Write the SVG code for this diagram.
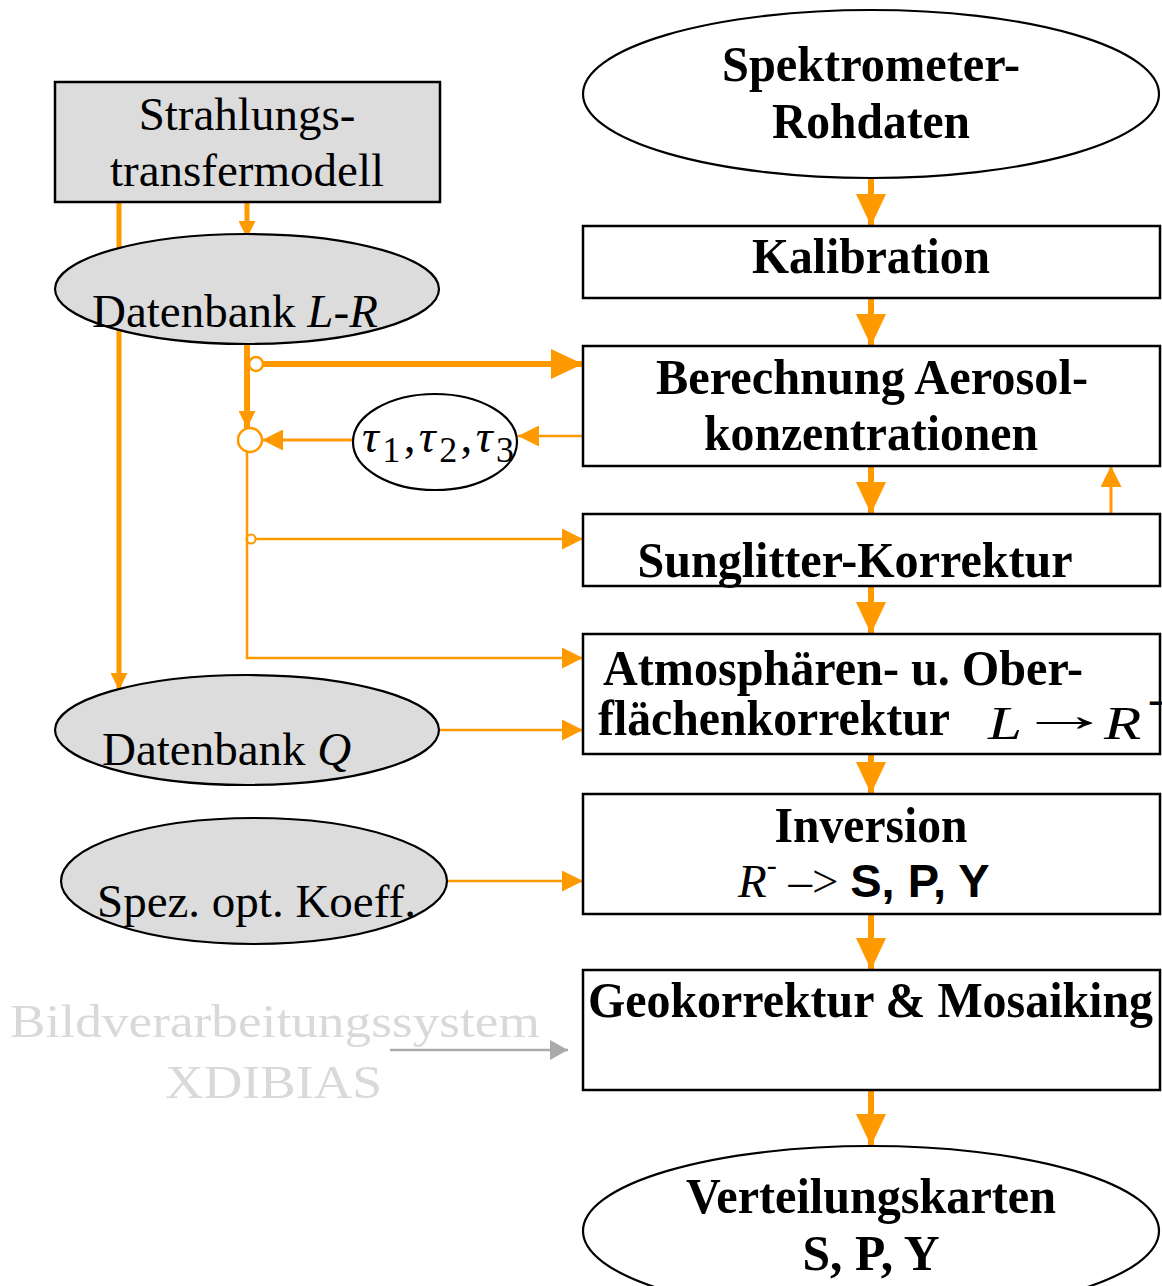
<svg xmlns="http://www.w3.org/2000/svg" width="1162" height="1286" viewBox="0 0 1162 1286">
<style>
.box{fill:#fff;stroke:#000;stroke-width:2.5}
.gbox{fill:#dcdcdc;stroke:#000;stroke-width:2.5}
.ell{fill:#fff;stroke:#000;stroke-width:2.2}
.gell{fill:#dcdcdc;stroke:#000;stroke-width:2.2}
.b{font-family:"Liberation Serif","Times New Roman",serif;font-weight:bold;font-size:50px;fill:#000}
.r{font-family:"Liberation Serif","Times New Roman",serif;font-size:47px;fill:#000}
.i{font-family:"Liberation Serif","Times New Roman",serif;font-style:italic}
.ctr{text-anchor:middle}
.gr{fill:#d9d9d9}
.o{fill:none;stroke:#FF9900}
.th{stroke-width:6}
.tn{stroke-width:3}
</style>
<defs>
<marker id="big" markerUnits="userSpaceOnUse" markerWidth="32" markerHeight="30" refX="32" refY="15" orient="auto" viewBox="0 0 32 30"><path d="M0,0 L32,15 L0,30 z" fill="#FF9900"/></marker>
<marker id="sm" markerUnits="userSpaceOnUse" markerWidth="21" markerHeight="21" refX="21" refY="10.5" orient="auto" viewBox="0 0 21 21"><path d="M0,0 L21,10.5 L0,21 z" fill="#FF9900"/></marker>
<marker id="xs" markerUnits="userSpaceOnUse" markerWidth="17" markerHeight="17" refX="17" refY="8.5" orient="auto" viewBox="0 0 17 17"><path d="M0,0 L17,8.5 L0,17 z" fill="#FF9900"/></marker>
<marker id="gray" markerUnits="userSpaceOnUse" markerWidth="18" markerHeight="20" refX="18" refY="10" orient="auto" viewBox="0 0 18 20"><path d="M0,0 L18,10 L0,20 z" fill="#aaaaaa"/></marker>
</defs>

<g id="connectors">
<line class="o th" x1="871" y1="178" x2="871" y2="226" marker-end="url(#big)"/>
<line class="o th" x1="871" y1="298" x2="871" y2="346" marker-end="url(#big)"/>
<line class="o th" x1="871" y1="466" x2="871" y2="514" marker-end="url(#big)"/>
<line class="o th" x1="871" y1="586" x2="871" y2="634" marker-end="url(#big)"/>
<line class="o th" x1="871" y1="754" x2="871" y2="794" marker-end="url(#big)"/>
<line class="o th" x1="871" y1="914" x2="871" y2="970" marker-end="url(#big)"/>
<line class="o th" x1="871" y1="1090" x2="871" y2="1146" marker-end="url(#big)"/>
<line class="o tn" x1="1111" y1="514" x2="1111" y2="466" marker-end="url(#sm)"/>
<line class="o" stroke-width="5" x1="119" y1="202" x2="119" y2="690" marker-end="url(#xs)"/>
<line class="o" stroke-width="5" x1="247" y1="202" x2="247" y2="238" marker-end="url(#xs)"/>
<line class="o th" x1="247" y1="344" x2="247" y2="428" marker-end="url(#xs)"/>
<circle class="o" stroke-width="2.5" cx="256" cy="364" r="7" fill="#fff"/>
<line class="o th" x1="263" y1="364" x2="583" y2="364" marker-end="url(#big)"/>
<line class="o" stroke-width="2.5" x1="583" y1="436" x2="518" y2="436" marker-end="url(#sm)"/>
<line class="o tn" x1="353" y1="440" x2="262" y2="440" marker-end="url(#sm)"/>
<circle class="o" stroke-width="2.5" cx="250" cy="440" r="12" fill="#fff"/>
<polyline class="o" stroke-width="2.5" points="247,452 247,658 583,658" marker-end="url(#sm)"/>
<circle class="o" stroke-width="2" cx="251" cy="539" r="4.5" fill="#fff"/>
<line class="o" stroke-width="2.5" x1="255" y1="539" x2="583" y2="539" marker-end="url(#sm)"/>
<line class="o" stroke-width="2.5" x1="440" y1="730" x2="583" y2="730" marker-end="url(#sm)"/>
<line class="o" stroke-width="2.5" x1="447" y1="881" x2="583" y2="881" marker-end="url(#sm)"/>
<line stroke="#aaaaaa" stroke-width="2.5" x1="390" y1="1050" x2="568" y2="1050" marker-end="url(#gray)"/>
</g>

<g id="strahlung">
<rect class="gbox" x="55" y="82" width="385" height="120"/>
<text class="r ctr" x="247" y="130">Strahlungs-</text>
<text class="r ctr" x="247" y="186">transfermodell</text>
</g>

<g id="dblr">
<ellipse class="gell" cx="247" cy="289" rx="192" ry="55"/>
<text class="r" x="92" y="327">Datenbank <tspan class="i">L</tspan>-<tspan class="i">R</tspan></text>
</g>

<g id="tau">
<ellipse class="ell" cx="435" cy="442" rx="82" ry="48"/>
<text class="r" x="362" y="452" font-size="52" textLength="152" lengthAdjust="spacing"><tspan class="i">τ</tspan><tspan font-size="36" dy="10">1</tspan><tspan dy="-10">,</tspan><tspan class="i">τ</tspan><tspan font-size="36" dy="10">2</tspan><tspan dy="-10">,</tspan><tspan class="i">τ</tspan><tspan font-size="36" dy="10">3</tspan></text>
</g>

<g id="dbq">
<ellipse class="gell" cx="247" cy="730" rx="192" ry="55"/>
<text class="r" x="102" y="765">Datenbank <tspan class="i">Q</tspan></text>
</g>

<g id="spez">
<ellipse class="gell" cx="254" cy="881" rx="193" ry="63"/>
<text class="r" x="97" y="917">Spez. opt. Koeff.</text>
</g>

<g id="xdibias">
<text class="r gr" x="10" y="1037" font-size="53" style="fill:#d9d9d9" textLength="530" lengthAdjust="spacingAndGlyphs">Bildverarbeitungssystem</text>
<text class="r gr" x="165" y="1098" font-size="53" style="fill:#d9d9d9" textLength="217" lengthAdjust="spacingAndGlyphs">XDIBIAS</text>
</g>

<g id="spektro">
<ellipse class="ell" cx="871" cy="94" rx="288" ry="84"/>
<text class="b ctr" x="871" y="81" textLength="298" lengthAdjust="spacingAndGlyphs">Spektrometer-</text>
<text class="b ctr" x="871" y="138" textLength="198" lengthAdjust="spacingAndGlyphs">Rohdaten</text>
</g>

<g id="kalib">
<rect class="box" x="583" y="226" width="577" height="72"/>
<text class="b ctr" x="871" y="273" textLength="238" lengthAdjust="spacingAndGlyphs">Kalibration</text>
</g>

<g id="aerosol">
<rect class="box" x="583" y="346" width="577" height="120"/>
<text class="b ctr" x="872" y="394" textLength="432" lengthAdjust="spacingAndGlyphs">Berechnung Aerosol-</text>
<text class="b ctr" x="871" y="450" textLength="334" lengthAdjust="spacingAndGlyphs">konzentrationen</text>
</g>

<g id="sunglitter">
<rect class="box" x="583" y="514" width="577" height="72"/>
<text class="b ctr" x="855" y="577" textLength="435" lengthAdjust="spacingAndGlyphs">Sunglitter-Korrektur</text>
</g>

<g id="atmos">
<rect class="box" x="583" y="634" width="577" height="120"/>
<text class="b" x="603" y="685" textLength="480" lengthAdjust="spacingAndGlyphs">Atmosphären- u. Ober-</text>
<text class="b" x="598" y="735" textLength="352" lengthAdjust="spacingAndGlyphs">flächenkorrektur</text>
<text class="r i" transform="translate(988,739) scale(1.3,1)" x="0" y="0" font-size="52">L</text>
<text class="r" transform="translate(1017,731) scale(2,1)" x="0" y="0" font-size="52">→</text>
<text class="r i" transform="translate(1104,739) scale(1.3,1)" x="0" y="0" font-size="52">R</text>
<text class="r" x="1148" y="714" font-size="34">-</text>
</g>

<g id="inversion">
<rect class="box" x="583" y="794" width="577" height="120"/>
<text class="b ctr" x="871" y="842" textLength="193" lengthAdjust="spacingAndGlyphs">Inversion</text>
<text class="r" x="738" y="897" font-size="46"><tspan class="i">R</tspan><tspan font-size="30" dy="-22">-</tspan><tspan dy="22"> –&gt; </tspan><tspan font-family="Liberation Sans, Arial, sans-serif" font-weight="bold" font-size="47">S, P, Y</tspan></text>
</g>

<g id="geo">
<rect class="box" x="583" y="970" width="577" height="120"/>
<text class="b" x="588" y="1017" textLength="565" lengthAdjust="spacingAndGlyphs">Geokorrektur &amp; Mosaiking</text>
</g>

<g id="karten">
<ellipse class="ell" cx="871" cy="1231" rx="288" ry="85"/>
<text class="b ctr" x="871" y="1213" textLength="370" lengthAdjust="spacingAndGlyphs">Verteilungskarten</text>
<text class="b ctr" x="871" y="1270" textLength="137" lengthAdjust="spacingAndGlyphs">S, P, Y</text>
</g>
</svg>
